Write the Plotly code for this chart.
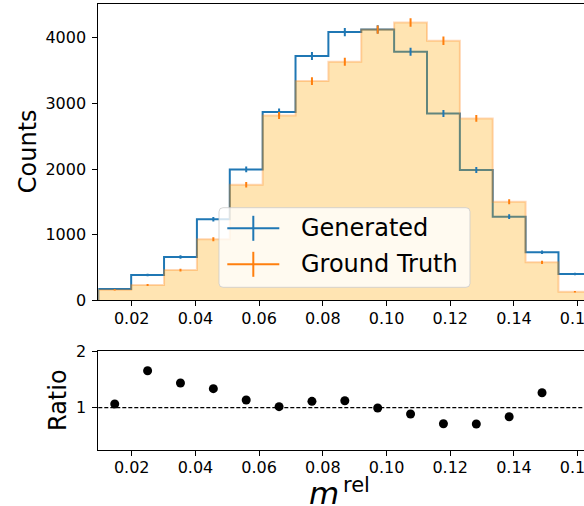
import plotly.graph_objects as go

# ---------------- data ----------------
bin_edges = [0.0095, 0.01982, 0.03014, 0.04046, 0.05078, 0.0611, 0.07142, 0.08174,
             0.09206, 0.10238, 0.1127, 0.12302, 0.13334, 0.14366, 0.15398, 0.1643]
generated = [172, 385, 660, 1234, 1995, 2868, 3721, 4087, 4128, 3787, 2848, 1985, 1274, 731, 400]
ground_truth = [161, 233, 460, 929, 1761, 2815, 3340, 3635, 4125, 4234, 3955, 2772, 1502, 579, 131]
generated_err = [13, 20, 26, 35, 45, 54, 61, 64, 64, 62, 53, 45, 36, 27, 20]
ground_truth_err = [13, 15, 21, 30, 42, 53, 58, 60, 64, 65, 63, 53, 39, 24, 11]
ratio = [1.066, 1.656, 1.438, 1.337, 1.137, 1.018, 1.113, 1.124, 0.995, 0.888,
         0.716, 0.711, 0.84, 1.266, 3.05]
ratio_ref = 1.0
x_ticks = [0.02, 0.04, 0.06, 0.08, 0.10, 0.12, 0.14, 0.16]
count_ticks = [0, 1000, 2000, 3000, 4000]
ratio_ticks = [1, 2]

# ---------------- layout constants ----------------
W, H = 584, 506
FONT = "DejaVu Sans"
BLUE = "#1f77b4"
ORANGE = "#ff7f0e"

def px(x):
    return x / W

def py(y):
    return 1 - y / H

centers = [(bin_edges[i] + bin_edges[i + 1]) / 2 for i in range(len(bin_edges) - 1)]

def step_xy(edges, vals):
    xs = [edges[0], edges[0]] + list(edges[1:]) + [edges[-1]]
    ys = [0] + list(vals) + [vals[-1], 0]
    return xs, ys

fig = go.Figure()

# generated: step outline
gx, gy = step_xy(bin_edges, generated)
fig.add_trace(go.Scatter(x=gx, y=gy, mode="lines", line=dict(color=BLUE, width=2, shape="hv"),
                         showlegend=False, xaxis="x", yaxis="y", hoverinfo="skip"))
# ground truth: filled step
tx, ty = step_xy(bin_edges, ground_truth)
fig.add_trace(go.Scatter(x=tx, y=ty, mode="lines", fill="tozeroy",
                         fillcolor="rgba(255,165,0,0.3)",
                         line=dict(color="rgba(255,127,14,0.3)", width=2, shape="hv"),
                         showlegend=False, xaxis="x", yaxis="y", hoverinfo="skip"))
# error bars
fig.add_trace(go.Scatter(x=centers, y=generated, mode="markers",
                         marker=dict(size=2, color="rgba(0,0,0,0)"),
                         error_y=dict(type="data", array=generated_err, color=BLUE,
                                      thickness=2, width=0),
                         showlegend=False, xaxis="x", yaxis="y"))
fig.add_trace(go.Scatter(x=centers, y=ground_truth, mode="markers",
                         marker=dict(size=2, color="rgba(0,0,0,0)"),
                         error_y=dict(type="data", array=ground_truth_err, color=ORANGE,
                                      thickness=2, width=0),
                         showlegend=False, xaxis="x", yaxis="y"))

# ratio panel
fig.add_trace(go.Scatter(x=centers, y=ratio, mode="markers",
                         marker=dict(size=9, color="black"),
                         showlegend=False, xaxis="x2", yaxis="y2"))
fig.add_shape(type="line", xref="x2 domain", yref="y2", x0=0, x1=1, y0=ratio_ref, y1=ratio_ref,
              line=dict(color="black", width=1.2, dash="4px,2px"))

xdom = [px(98.3), 1]
xrange_ = [0.0095, 0.0095 + (584 - 98.3) / 3185.0]
axis_common = dict(showline=True, linecolor="black", linewidth=1, ticks="outside",
                   ticklen=5, tickwidth=1, tickcolor="black", showgrid=False, zeroline=False,
                   automargin=False, ticklabeloverflow="allow",
                   tickfont=dict(family=FONT, size=16, color="black"))

fig.update_layout(
    template="none",
    width=W, height=H, margin=dict(l=0, r=0, t=0, b=0, autoexpand=False),
    paper_bgcolor="white", plot_bgcolor="white", showlegend=False,
    xaxis=dict(domain=xdom, range=xrange_, anchor="y",
               tickvals=x_ticks, ticktext=["%.2f" % v for v in x_ticks], mirror=True,
               ticklabelstandoff=-2, **axis_common),
    yaxis=dict(domain=[py(300.3), py(4)], range=[0, 4515], anchor="x",
               tickvals=count_ticks, ticktext=[str(v) for v in count_ticks],
               ticklabelstandoff=3, **axis_common),
    xaxis2=dict(domain=xdom, range=xrange_, anchor="y2",
                tickvals=x_ticks, ticktext=["%.2f" % v for v in x_ticks], mirror=True,
                ticklabelstandoff=-2, **axis_common),
    yaxis2=dict(domain=[py(450), py(351.3)], range=[0.25, 2], anchor="x2",
                tickvals=ratio_ticks, ticktext=[str(v) for v in ratio_ticks],
                ticklabelstandoff=3, **axis_common),
)

# axis titles
fig.add_annotation(text="Counts", x=px(27.5), y=py(151.7), xref="paper", yref="paper",
                   textangle=-90, showarrow=False, xanchor="center", yanchor="middle",
                   font=dict(family=FONT, size=24, color="black"))
fig.add_annotation(text="Ratio", x=px(58), y=py(400), xref="paper", yref="paper",
                   textangle=-90, showarrow=False, xanchor="center", yanchor="middle",
                   font=dict(family=FONT, size=24, color="black"))
# x label: italic m with roman superscript "rel"
fig.add_annotation(text="<i>m</i>", x=px(324), y=py(493.0), xref="paper", yref="paper",
                   showarrow=False, xanchor="center", yanchor="middle",
                   font=dict(family=FONT, size=31, color="black"))
fig.add_annotation(text="rel", x=px(340.5), y=py(485.4), xref="paper", yref="paper",
                   showarrow=False, xanchor="left", yanchor="middle",
                   font=dict(family=FONT, size=21, color="black"))

# legend (matplotlib-style box)
def rounded_rect(x0, y0, x1, y1, r):
    X0, X1 = px(x0), px(x1)
    Y0, Y1 = py(y0), py(y1)  # Y0 top, Y1 bottom
    rx, ry = r / W, r / H
    return (f"M{X0+rx},{Y0} L{X1-rx},{Y0} Q{X1},{Y0} {X1},{Y0-ry} "
            f"L{X1},{Y1+ry} Q{X1},{Y1} {X1-rx},{Y1} L{X0+rx},{Y1} "
            f"Q{X0},{Y1} {X0},{Y1+ry} L{X0},{Y0-ry} Q{X0},{Y0} {X0+rx},{Y0} Z")

fig.add_shape(type="path", xref="paper", yref="paper",
              path=rounded_rect(219, 207.7, 470, 287.3, 4),
              fillcolor="rgba(255,255,255,0.8)", line=dict(color="rgba(204,204,204,0.8)", width=1))
legend_items = [("Generated", BLUE, 228.3), ("Ground Truth", ORANGE, 264.3)]
for name, col, yc in legend_items:
    fig.add_shape(type="line", xref="paper", yref="paper", x0=px(227.3), x1=px(279.3),
                  y0=py(yc), y1=py(yc), line=dict(color=col, width=2))
    fig.add_shape(type="line", xref="paper", yref="paper", x0=px(253.3), x1=px(253.3),
                  y0=py(yc - 12.5), y1=py(yc + 12.5), line=dict(color=col, width=2))
    fig.add_annotation(text=name, x=px(299), y=py(yc), xref="paper", yref="paper",
                       showarrow=False, xanchor="left", yanchor="middle",
                       font=dict(family=FONT, size=24, color="black"))

fig.write_html("out.html")
